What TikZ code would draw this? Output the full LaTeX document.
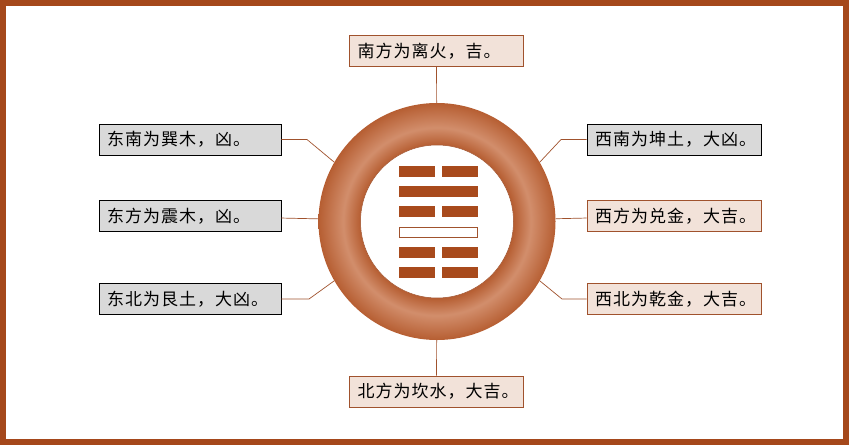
\documentclass[tikz,border=0pt]{standalone}
\usepackage{fontspec}
\newfontfamily\cjk[LetterSpace=6]{Noto Sans CJK SC}
\definecolor{framebrown}{RGB}{165,72,27}
\definecolor{barbrown}{RGB}{168,74,28}
\definecolor{linkbrown}{RGB}{160,82,45}
\definecolor{ringdark}{RGB}{182,94,50}
\definecolor{ringlight}{RGB}{210,142,108}
\definecolor{luckfill}{RGB}{242,226,217}
\definecolor{badfill}{RGB}{217,217,217}
\pgfdeclareradialshading{ringshade}{\pgfpoint{0bp}{0bp}}{color(0bp)=(ringdark); color(16.2bp)=(ringdark); color(19.8bp)=(ringlight); color(25bp)=(ringdark); color(50bp)=(ringdark)}
\tikzset{
  label/.style={rectangle, minimum height=31pt, inner xsep=8pt, inner ysep=0pt,
    align=left, font=\cjk\fontsize{17}{17}\selectfont, line width=0.8pt},
  lucky/.style={label, draw=linkbrown, fill=luckfill},
  unlucky/.style={label, draw=black, fill=badfill},
  link/.style={draw=linkbrown, line width=0.7pt}
}
\begin{document}
\begin{tikzpicture}[x=1pt, y=-1pt]
  \useasboundingbox (0,0) rectangle (849,445);
  \draw[framebrown, line width=6pt] (3,3) rectangle (846,442);
  % ring with hexagram
  \node[circle, minimum size=237pt, inner sep=0pt, shading=ringshade] (ring) at (437,221.5) {};
  \node[circle, minimum size=153pt, inner sep=0pt, draw=linkbrown, line width=0.5pt, fill=white] (hole) at (ring.center) {};
  \foreach \k in {0,2,4,5} {
    \fill[barbrown] (399,166+20.2*\k) rectangle ++(36,11);
    \fill[barbrown] (442,166+20.2*\k) rectangle ++(36,11);
  }
  \fill[barbrown] (399,186.2) rectangle ++(79,11);
  \draw[linkbrown, fill=white, line width=0.8pt] (399.5,227) rectangle ++(78,10);
  % boxes
  \node[lucky, text width=158pt] (south) at (436.5,51) {南方为离火，吉。};
  \node[lucky, text width=158pt] (north) at (436.5,391.5) {北方为坎水，大吉。};
  \node[unlucky, text width=166pt] (southeast) at (190,139.5) {东南为巽木，凶。};
  \node[unlucky, text width=166pt] (east) at (190,216) {东方为震木，凶。};
  \node[unlucky, text width=166pt] (northeast) at (190,299) {东北为艮土，大凶。};
  \node[unlucky, text width=158pt] (southwest) at (674,139.5) {西南为坤土，大凶。};
  \node[lucky, text width=158pt] (west) at (674,216) {西方为兑金，大吉。};
  \node[lucky, text width=158pt] (northwest) at (674,299) {西北为乾金，大吉。};
  % connectors
  \coordinate (se bend) at (307,139.5);
  \coordinate (ne bend) at (309,299);
  \coordinate (sw bend) at (561,139.5);
  \coordinate (nw bend) at (562,299);
  \begin{scope}[link]
    \draw (south) -- (ring);
    \draw (north) -- (ring);
    \draw (east) -- (ring);
    \draw (west) -- (ring);
    \draw (southeast) -- (se bend) -- (ring.150);
    \draw (northeast) -- (ne bend) -- (ring.210);
    \draw (southwest) -- (sw bend) -- (ring.30);
    \draw (northwest) -- (nw bend) -- (ring.330);
  \end{scope}
\end{tikzpicture}
\end{document}
